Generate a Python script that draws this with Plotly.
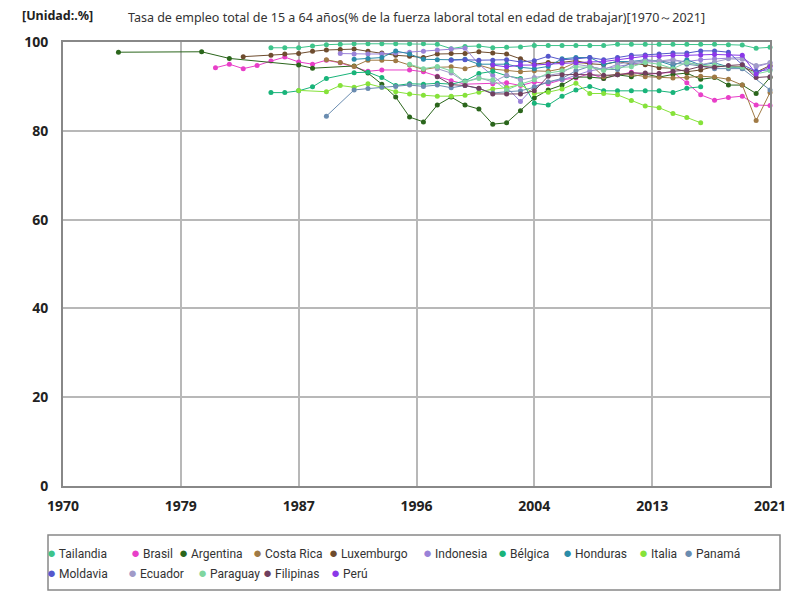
import plotly.graph_objects as go

# Años con tick en el eje (el gráfico original usa pasos de 8.5 años)
tick_vals = [1970, 1978.5, 1987, 1995.5, 2004, 2012.5, 2021]
tick_text = ['1970', '1979', '1987', '1996', '2004', '2013', '2021']

tailandia_years = list(range(1985, 2022))
tailandia_vals = [98.7, 98.7, 98.7, 99.1, 99.4, 99.5, 99.6, 99.6, 99.6, 99.6, 99.6, 99.6,
                  99.5, 98.5, 99.0, 99.1, 98.7, 98.8, 98.9, 99.2, 99.2, 99.2, 99.2, 99.2, 99.2,
                  99.5, 99.5, 99.5, 99.5, 99.5, 99.5, 99.5, 99.5, 99.4, 99.3, 98.6, 98.8]

brasil_years = list(range(1981, 1991)) + [1992, 1993] + list(range(1995, 2000)) + \
    list(range(2001, 2010)) + list(range(2011, 2022))
brasil_vals = [94.2, 95.0, 94.0, 94.7, 95.7, 96.6, 95.5, 95.0, 95.9, 95.3,
               93.4, 93.7,
               93.7, 93.3, 92.3, 91.3, 90.5,
               90.6, 90.8, 90.2, 91.0, 90.6, 91.5, 91.9, 92.9, 91.8,
               93.2, 92.7, 92.9, 93.2, 90.8, 88.1, 86.9, 87.5, 87.8, 85.8, 85.7]

argentina_years = [1974, 1980, 1982, 1987, 1988] + list(range(1991, 2022))
argentina_vals = [97.7, 97.8, 96.3, 94.8, 94.1,
                  94.6, 93.0, 90.5, 87.6, 83.1, 82.0, 85.8, 87.6, 85.8, 84.9,
                  81.5, 81.8, 84.5, 87.4, 89.2, 90.3, 92.1, 92.1, 91.8, 92.6,
                  92.2, 92.8, 92.1, 92.7, 93.0, 91.6, 92.0, 90.3, 90.3, 88.4, 92.0]

costa_rica_years = list(range(1989, 2022))
costa_rica_vals = [96.0, 95.4, 94.5, 95.9, 95.9, 95.8, 94.8, 93.8, 94.3, 94.4,
                   94.0, 94.8, 93.9, 93.6, 93.3, 93.5, 93.4, 94.0, 95.4, 95.1,
                   92.2, 92.8, 92.7, 92.2, 92.1, 91.9, 92.0, 92.3, 92.1, 91.6, 90.3, 82.3, 88.6]

luxemburgo_years = [1983] + list(range(1985, 2022))
luxemburgo_vals = [96.7,
                   97.0, 97.3, 97.4, 97.9, 98.2, 98.3, 98.4, 97.9, 97.5, 97.0,
                   96.8, 96.5, 97.3, 97.4, 97.4, 97.8, 97.5, 97.3, 96.2, 95.0,
                   95.4, 95.4, 95.8, 95.1, 94.9, 95.6, 95.1, 94.9, 94.2, 94.1,
                   93.3, 93.7, 94.5, 94.4, 94.4, 93.2, 94.7]

indonesia_years = list(range(1990, 2022))
indonesia_vals = [97.4, 97.3, 97.3, 97.3, 97.5, 97.7, 97.9, 98.2, 98.4, 98.6,
                  95.0, 92.5, 89.8, 86.6, 90.0, 91.0, 91.5, 92.5, 93.5, 94.0,
                  94.5, 95.0, 95.5, 95.6, 95.8, 95.6, 96.0, 96.2, 96.4, 96.5, 94.4, 95.3]

belgica_years = list(range(1985, 1990)) + list(range(1991, 2017))
belgica_vals = [88.6, 88.6, 89.0, 89.9, 91.8,
                93.1, 93.2, 92.0, 90.2, 90.6, 90.5, 90.7, 90.5, 91.2, 92.9,
                93.4, 92.4, 91.8, 86.2, 85.8, 87.8, 89.2, 90.0, 89.0, 89.0,
                89.0, 89.0, 89.0, 88.6, 89.6, 89.9]

honduras_years = list(range(1991, 2020))
honduras_vals = [96.1, 96.3, 96.5, 98.0, 97.3, 96.1, 96.0, 96.0, 96.1, 95.0,
                 95.0, 95.0, 94.3, 94.0, 94.5, 96.2, 96.5, 96.5, 95.0, 95.6,
                 95.6, 96.0, 95.7, 94.7, 96.0, 94.8, 95.3, 94.4, 94.1]

italia_years = [1987] + list(range(1989, 2017))
italia_vals = [89.1,
               88.8, 90.2, 89.8, 90.6, 89.8, 88.8, 88.3, 88.0, 87.8, 87.8,
               88.0, 88.7, 89.4, 89.7, 90.4, 88.4, 88.7, 89.4, 90.7, 88.4,
               88.4, 88.1, 86.8, 85.6, 85.2, 83.9, 83.0, 81.8]

panama_years = [1989] + list(range(1991, 2020)) + [2021]
panama_vals = [83.3,
               89.2, 89.5, 89.8, 90.0, 90.3, 90.0, 90.3, 89.7, 90.2, 89.5,
               88.5, 88.8, 89.0, 89.8, 91.0, 91.8, 93.5, 94.5, 93.8, 93.8,
               95.3, 95.8, 95.8, 95.2, 95.0, 94.6, 94.0, 94.0, 94.0,
               89.2]

moldavia_years = list(range(1998, 2022))
moldavia_vals = [95.9, 96.0, 95.9, 95.9, 96.0, 95.5, 95.8, 96.8, 96.0, 96.2,
                 96.5, 96.0, 96.5, 97.0, 97.1, 97.3, 97.5, 97.5, 98.0, 98.0,
                 97.7, 94.9, 93.4, 93.8]

ecuador_years = list(range(1997, 2022))
ecuador_vals = [94.0, 93.0, 91.0, 92.0, 91.0, 92.5, 91.5, 92.0, 92.5, 93.0,
                95.0, 94.5, 93.8, 95.0, 95.6, 95.8, 95.7, 96.1, 95.3, 94.9,
                95.5, 96.2, 96.1, 94.7, 95.3]

paraguay_years = list(range(1995, 2022))
paraguay_vals = [95.0, 94.0, 94.5, 93.5, 91.0, 91.8, 91.5, 89.2, 90.5, 91.5,
                 93.0, 93.5, 94.4, 94.3, 93.6, 94.3, 94.4, 95.4, 95.0, 94.0,
                 95.4, 94.7, 94.8, 94.4, 94.3, 92.8, 93.5]

filipinas_years = list(range(1997, 2022))
filipinas_vals = [92.2, 90.4, 90.2, 89.6, 88.3, 88.3, 88.3, 89.0, 92.3, 92.6,
                  92.7, 92.6, 92.5, 92.6, 93.0, 93.0, 92.9, 93.4, 93.7, 94.5,
                  94.3, 94.7, 94.9, 92.0, 92.2]

peru_years = list(range(2001, 2022))
peru_vals = [94.8, 94.4, 94.8, 94.8, 95.0, 95.2, 95.3, 95.5, 95.6, 96.0,
             96.5, 96.8, 96.8, 97.0, 97.0, 97.1, 97.2, 97.1, 97.0, 92.8, 94.5]

series = [
    ('Tailandia', tailandia_years, tailandia_vals, '#3dc48b'),
    ('Brasil', brasil_years, brasil_vals, '#e83fc8'),
    ('Argentina', argentina_years, argentina_vals, '#2b661c'),
    ('Costa Rica', costa_rica_years, costa_rica_vals, '#a07a45'),
    ('Luxemburgo', luxemburgo_years, luxemburgo_vals, '#6e4c2e'),
    ('Indonesia', indonesia_years, indonesia_vals, '#9a82d8'),
    ('Bélgica', belgica_years, belgica_vals, '#19b47a'),
    ('Honduras', honduras_years, honduras_vals, '#2b8ca8'),
    ('Italia', italia_years, italia_vals, '#86e23a'),
    ('Panamá', panama_years, panama_vals, '#6a8cb0'),
    ('Moldavia', moldavia_years, moldavia_vals, '#5557cc'),
    ('Ecuador', ecuador_years, ecuador_vals, '#a09ac8'),
    ('Paraguay', paraguay_years, paraguay_vals, '#7fd6a0'),
    ('Filipinas', filipinas_years, filipinas_vals, '#703f5e'),
    ('Perú', peru_years, peru_vals, '#8a38e8'),
]

# plot area in page pixels; the html body adds an 8px offset
OFF = 8
PL, PR, PT, PB = 63, 770, 42, 486


def px_x(px):
    return (px - PL) / (PR - PL)


def px_y(py):
    return (PB - py) / (PB - PT)


fig = go.Figure()
for name, xs, ys, color in series:
    fig.add_trace(go.Scatter(
        x=xs, y=ys, name=name, mode='lines+markers',
        line=dict(color=color, width=1),
        marker=dict(color=color, size=5),
        cliponaxis=False, showlegend=False,
    ))

# hand-made legend: two rows like the original (10 + 5 entries)
legend_x = [51, 135, 183, 257, 333, 427, 502, 567, 643, 688,
            51, 132, 202, 267, 335]
legend_rows = [553] * 10 + [573] * 5
annotations = [dict(
    text='<b>[Unidad:.%]</b>', xref='paper', yref='paper',
    x=px_x(20), y=px_y(16), xanchor='left', yanchor='middle',
    showarrow=False, font=dict(size=12.5, color='#222'),
)]
for (name, _, _, color), lx, ly in zip(series, legend_x, legend_rows):
    annotations.append(dict(
        text=f'<span style="color:{color};font-size:15px">●</span> {name}',
        xref='paper', yref='paper', x=px_x(lx - 6), y=px_y(ly),
        xanchor='left', yanchor='middle', showarrow=False,
        font=dict(family='Roboto', size=12, color='#333'),
    ))

fig.update_layout(
    width=800, height=600,
    margin=dict(l=PL - OFF, r=800 + OFF - PR, t=PT - OFF, b=600 + OFF - PB, autoexpand=False),
    paper_bgcolor='white', plot_bgcolor='white',
    font=dict(family='Noto Sans', color='#222'),
    title=dict(
        text='Tasa de empleo total de 15 a 64 años(% de la fuerza laboral total en edad de trabajar)[1970～2021]',
        x=0.5, xref='paper', xanchor='center', y=1 - (18 - OFF) / 600, yanchor='middle',
        font=dict(size=12.5, color='#333'),
    ),
    showlegend=False,
    annotations=annotations,
    shapes=[dict(
        type='rect', xref='paper', yref='paper',
        x0=px_x(48), x1=px_x(780), y0=px_y(590), y1=px_y(535),
        line=dict(color='#888', width=1.5), fillcolor='rgba(0,0,0,0)',
    )],
)

fig.update_xaxes(
    range=[1970, 2021], tickvals=tick_vals, ticktext=tick_text,
    showgrid=True, gridcolor='#b8b8b8', gridwidth=2,
    showline=True, linecolor='#888', linewidth=2, mirror=True,
    ticks='', tickfont=dict(size=14, weight='bold'), zeroline=False,
    ticklabelstandoff=6,
)
fig.update_yaxes(
    range=[0, 100], dtick=20,
    showgrid=True, gridcolor='#b8b8b8', gridwidth=2,
    showline=True, linecolor='#888', linewidth=2, mirror=True,
    ticks='', tickfont=dict(size=14, weight='bold'), zeroline=False,
    ticklabelstandoff=10,
)

fig.write_html("out.html")
